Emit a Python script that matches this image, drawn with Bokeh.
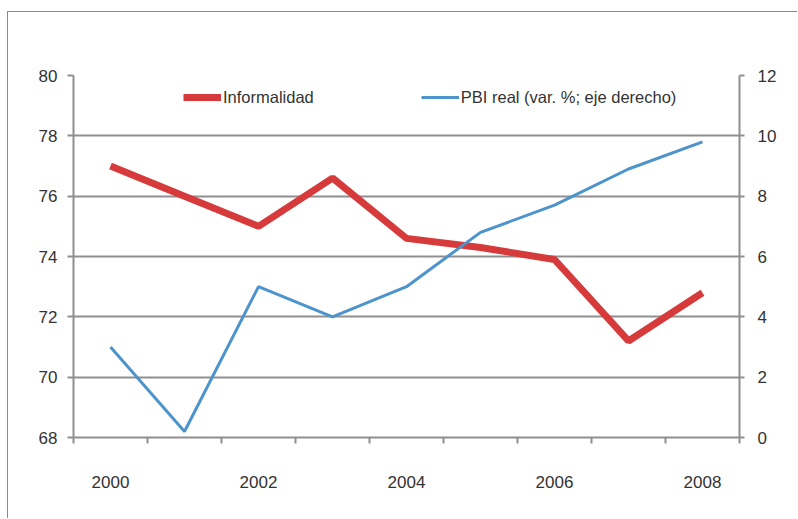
from bokeh.plotting import figure
from bokeh.models import Range1d, LinearAxis, FixedTicker, Legend, LegendItem
from bokeh.embed import file_html
from bokeh.resources import INLINE

# ---- data ----
years = [2000, 2001, 2002, 2003, 2004, 2005, 2006, 2007, 2008]
informalidad = [77.0, 76.0, 75.0, 76.6, 74.6, 74.3, 73.9, 71.2, 72.8]
pbi_real = [3.0, 0.2, 5.0, 4.0, 5.0, 6.8, 7.7, 8.9, 9.8]
x_tick_labels = [2000, 2002, 2004, 2006, 2008]
left_ticks = [68, 70, 72, 74, 76, 78, 80]
right_ticks = [0, 2, 4, 6, 8, 10, 12]
label_informalidad = "Informalidad"
label_pbi = "PBI real (var. %; eje derecho)"

RED = "#d63a3a"
BLUE = "#4d93cc"
GRID = "#8f8f8f"
TXT = "#333333"
TICK_FONT = "Liberation Sans"
TICK_SIZE = "17px"

p = figure(width=790, height=507, output_backend="svg", toolbar_location=None,
           x_range=Range1d(years[0] - 0.5, years[-1] + 0.5),
           y_range=Range1d(68, 80),
           min_border_left=65, min_border_right=59, min_border_top=63,
           min_border_bottom=82)
p.margin = (11, 0, 0, 7)
p.styles = {"border-left": "1px solid #8a8a8a", "border-top": "1px solid #8a8a8a"}
p.extra_y_ranges = {"right": Range1d(0, 12)}
p.outline_line_color = None
p.background_fill_color = "white"
p.border_fill_color = "white"

# grid
p.xgrid.grid_line_color = None
p.ygrid.ticker = FixedTicker(ticks=left_ticks)
p.ygrid.grid_line_color = GRID
p.ygrid.grid_line_width = 2

# left axis
ya = p.yaxis[0]
ya.ticker = FixedTicker(ticks=left_ticks)
ya.axis_line_color = GRID
ya.axis_line_width = 2
ya.major_tick_line_color = GRID
ya.major_tick_line_width = 2
ya.major_tick_out = 6
ya.major_tick_in = 0
ya.minor_tick_line_color = None
ya.major_label_standoff = 10
ya.major_label_text_font = TICK_FONT
ya.major_label_text_font_size = TICK_SIZE
ya.major_label_text_color = TXT

# right axis
ra = LinearAxis(y_range_name="right", ticker=FixedTicker(ticks=right_ticks))
ra.axis_line_color = GRID
ra.axis_line_width = 2
ra.major_tick_line_color = GRID
ra.major_tick_line_width = 2
ra.major_tick_out = 5
ra.major_tick_in = 0
ra.minor_tick_line_color = None
ra.major_label_standoff = 13
ra.major_label_text_font = TICK_FONT
ra.major_label_text_font_size = TICK_SIZE
ra.major_label_text_color = TXT
p.add_layout(ra, "right")

# bottom axis: tick marks between categories, no labels
boundaries = [y - 0.5 for y in years] + [years[-1] + 0.5]
xa = p.xaxis[0]
xa.ticker = FixedTicker(ticks=boundaries)
xa.axis_line_color = GRID
xa.axis_line_width = 2
xa.major_tick_line_color = GRID
xa.major_tick_line_width = 2
xa.major_tick_out = 6
xa.major_tick_in = 0
xa.minor_tick_line_color = None
xa.major_label_standoff = 0
xa.major_label_text_font_size = "0px"
xa.major_label_overrides = {b: "" for b in boundaries}

# bottom axis: year labels
xl = LinearAxis(ticker=FixedTicker(ticks=x_tick_labels))
xl.axis_line_color = None
xl.major_tick_line_color = None
xl.minor_tick_line_color = None
xl.major_tick_out = 0
xl.major_tick_in = 0
xl.major_label_standoff = 32
xl.major_label_text_font = TICK_FONT
xl.major_label_text_font_size = TICK_SIZE
xl.major_label_text_color = TXT
p.add_layout(xl, "below")

# lines
r1 = p.line(years, informalidad, line_color=RED, line_width=7)
r2 = p.line(years, pbi_real, line_color=BLUE, line_width=3, y_range_name="right")

legend = Legend(items=[LegendItem(label=label_informalidad, renderers=[r1]),
                       LegendItem(label=label_pbi, renderers=[r2])],
                orientation="horizontal", location=(110, 330),
                glyph_width=38, glyph_height=20, label_height=20,
                label_standoff=2, spacing=107, padding=0, margin=0,
                border_line_color=None, background_fill_alpha=0,
                label_text_font="Liberation Sans", label_text_font_size="16.5px",
                label_text_color=TXT)
p.add_layout(legend, "center")

open("out.html", "w").write(file_html(p, INLINE))
